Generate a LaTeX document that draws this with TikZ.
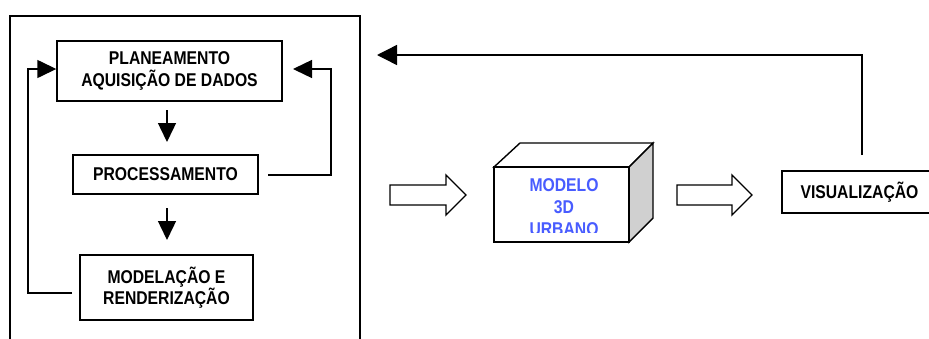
\documentclass[tikz,border=0pt]{standalone}
\usepackage{fontspec}
\setmainfont{Liberation Sans}[FakeStretch=0.85]
\usetikzlibrary{arrows.meta}
\definecolor{modelblue}{RGB}{72,92,255}
\definecolor{sidegray}{RGB}{208,208,208}
\tikzset{
  box/.style={draw=black, line width=1.4pt, fill=white, inner sep=0pt, align=center,
    font=\fontsize{18.5}{21.5}\selectfont\bfseries},
  link/.style={draw=black, line width=1.4pt},
  tip/.style={-{Triangle[length=19pt,width=18pt]}},
  blockarrow/.style={draw=black, line width=1.3pt, fill=white, line join=miter},
}
\begin{document}
\begin{tikzpicture}[x=1pt,y=-1pt]
\useasboundingbox (0,0) rectangle (929,338);
\clip (0,0) rectangle (929,338);
% outer frame (open at the bottom)
\draw[link] (10,345) -- (10,16) -- (360,16) -- (360,345);
% left column boxes
\node[box, minimum width=225pt, minimum height=60pt] (plan) at (169.5,71) {PLANEAMENTO\\AQUISIÇÃO DE DADOS};
\node[box, minimum width=185pt, minimum height=39pt] (proc) at (165.5,174.5) {PROCESSAMENTO};
\node[box, minimum width=173pt, minimum height=65pt] (mod) at (166.5,287.5) {MODELAÇÃO E\\RENDERIZAÇÃO};
% down arrows
\coordinate (d1s) at (167,110);
\coordinate (d1e) at (167,142);
\coordinate (d2s) at (167,208);
\coordinate (d2e) at (167,240);
\draw[link, -{Triangle[length=19pt,width=18pt]}] (d1s) -- (d1e);
\draw[link, -{Triangle[length=19pt,width=18pt]}] (d2s) -- (d2e);
% left loop
\coordinate (ls) at (72,293);
\coordinate (rs) at (268,175);
\draw[link, tip] (ls) -- (28,293) -- (28,69) -- (plan.west |- 0,69);
% right loop
\draw[link, tip] (rs) -- (331,175) -- (331,69) -- (293,69);
% 3D model box
\fill[white, draw=black, line width=1.4pt, line join=miter] (494,167) -- (520,143) -- (653,143) -- (629,167) -- cycle;
\fill[sidegray, draw=black, line width=1.4pt, line join=miter] (629,167) -- (653,143) -- (653,218) -- (629,242) -- cycle;
\node[draw=black, line width=1.4pt, fill=white, minimum width=135pt, minimum height=75pt, inner sep=0pt] (model) at (561.5,204.5) {};
\begin{scope}
\clip (494,167) rectangle (629,232);
\node[text=modelblue, align=center, font=\fontsize{18.5}{22}\selectfont\bfseries, anchor=north] (modeltext) at (564,175) {MODELO\\3D\\URBANO};
\end{scope}
% visualization box
\node[box, minimum width=150pt, minimum height=42pt] (viz) at (857,192) {\hspace*{5pt}VISUALIZAÇÃO};
% block arrows
\draw[blockarrow] (390,185) -- (446,185) -- (446,175) -- (466,195) -- (446,215) -- (446,205) -- (390,205) -- cycle;
\draw[blockarrow] (677,185) -- (732,185) -- (732,175) -- (752,195) -- (732,215) -- (732,205) -- (677,205) -- cycle;
% top feedback arrow
\coordinate (vs) at (862,155);
\coordinate (te) at (377,55);
\draw[link, -{Triangle[length=20pt,width=20pt]}] (vs) -- (862,55) -- (te);
\end{tikzpicture}
\end{document}
